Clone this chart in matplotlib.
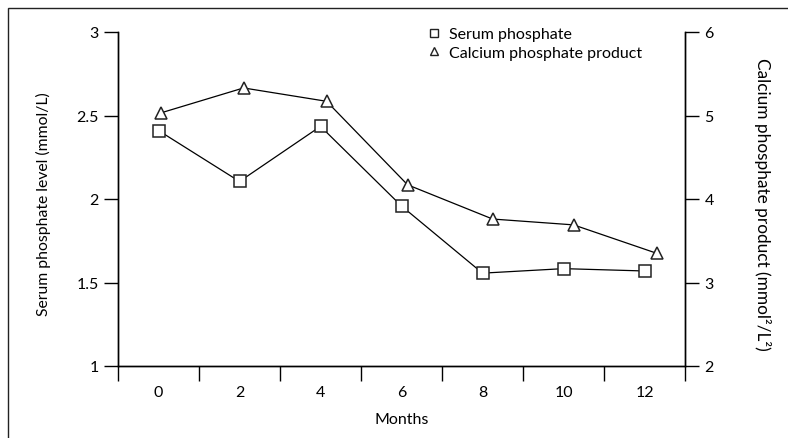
import numpy as np
import matplotlib
matplotlib.use("Agg")
import matplotlib.pyplot as plt
from matplotlib.patches import Rectangle
from matplotlib.lines import Line2D

plt.rcParams['font.family'] = ['Lato', 'DejaVu Sans']

months = [0, 2, 4, 6, 8, 10, 12]
serum_x = [0, 2, 4, 6, 8, 10, 12]
serum = [2.41, 2.105, 2.435, 1.958, 1.556, 1.583, 1.569]
# triangles sit a little right of the squares in the original
capo4_x = [0.05, 2.1, 4.15, 6.15, 8.25, 10.25, 12.3]
capo4 = [5.03, 5.33, 5.17, 4.17, 3.76, 3.69, 3.35]

fig = plt.figure(figsize=(7.88, 4.39), dpi=100)
ax = fig.add_axes([118/788, 1-367/439, (685-118)/788, (367-33)/439])
ax2 = ax.twinx()

ax.plot(serum_x, serum, 'k-', lw=0.9, marker='s', ms=8.5, mfc='white', mec='#222222', mew=1.1)
ax2.plot(capo4_x, capo4, 'k-', lw=0.9, marker='^', ms=8.5, mfc='white', mec='#222222', mew=1.1)

ax.set_xlim(-1, 13)
ax.set_ylim(1, 3)
ax2.set_ylim(2, 6)
ax.set_xticks(np.arange(-1, 14, 2))
ax.set_xticklabels([])
ax.set_xticks(months, minor=True)
ax.set_xticklabels([str(m) for m in months], minor=True)
ax.tick_params(axis='x', which='major', direction='out', length=11, width=1)
ax.tick_params(axis='x', which='minor', length=0, pad=13.5, labelsize=11.5)
ax.set_yticks([1, 1.5, 2, 2.5, 3])
ax.set_yticklabels(['1', '1.5', '2', '2.5', '3'])
ax.tick_params(axis='y', direction='out', length=10, width=1, labelsize=11.5, pad=4)
ax2.set_yticks([2, 3, 4, 5, 6])
ax2.tick_params(axis='y', direction='out', length=10, width=1, labelsize=11.5, pad=4)

for a in (ax, ax2):
    a.spines['top'].set_visible(False)
    for s in a.spines.values():
        s.set_linewidth(1)

ax.set_xlabel('Months', fontsize=11.5, va='center')
ax.xaxis.set_label_coords(0.5, (367-420)/334)
ax.set_ylabel('Serum phosphate level (mmol/L)', fontsize=11.3, ha='center', va='center')
ax.yaxis.set_label_coords((43-118)/567, (367-204)/334)
ax2.set_ylabel('Calcium phosphate product (mmol²/L²)', fontsize=12.4, rotation=-90,
               ha='center', va='center')
ax2.yaxis.set_label_coords((762-118)/567, (367-204)/334)

handles = [
    Line2D([], [], ls='none', marker='s', ms=6, mfc='white', mec='#222222', mew=1),
    Line2D([], [], ls='none', marker='^', ms=6, mfc='white', mec='#222222', mew=1),
]
fig.legend(handles, ['Serum phosphate', 'Calcium phosphate product'],
           loc='upper left', bbox_to_anchor=(428/788, 1-28/439), frameon=False,
           fontsize=11.5, handlelength=0.8, handletextpad=0.5, labelspacing=0.28,
           borderpad=0, borderaxespad=0)

# outer frame, right and bottom edges fall off the image
fig.patches.append(Rectangle((8/788, -0.1), 1.2, 1.1 - 9/439, fill=False,
                             ec='#222222', lw=1, transform=fig.transFigure))

fig.savefig('out.png', dpi=100)
